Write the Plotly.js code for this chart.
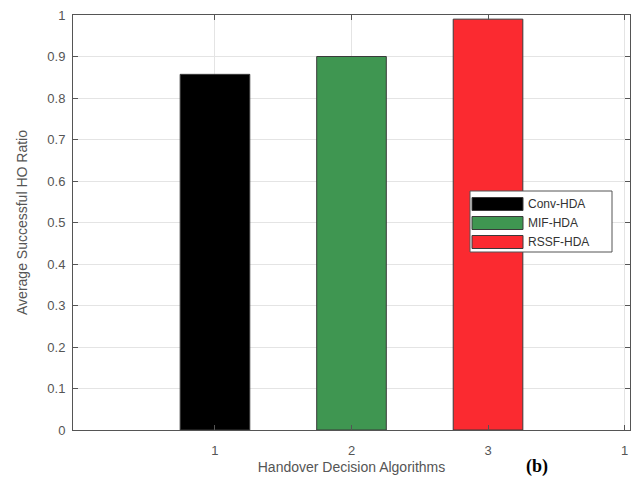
<!DOCTYPE html>
<html>
<head>
<meta charset="utf-8">
<script src="https://cdn.plot.ly/plotly-3.0.1.min.js"></script>
<style>html,body{margin:0;padding:0;background:#fff;}#chart{width:640px;height:481px;}</style>
</head>
<body>
<div id="chart"></div>
<script>
// Data
const seriesNames = ['Conv-HDA', 'MIF-HDA', 'RSSF-HDA'];
const xPositions = [1, 2, 3];
const seriesValues = [0.857, 0.900, 0.990];
const seriesColors = ['#000000', '#3f9651', '#fb2a30'];
const xTickVals = [1, 2, 3, 4];
const xTickText = ['1', '2', '3', '1'];
const yTickVals = [0, 0.1, 0.2, 0.3, 0.4, 0.5, 0.6, 0.7, 0.8, 0.9, 1];
const yTickText = ['0', '0.1', '0.2', '0.3', '0.4', '0.5', '0.6', '0.7', '0.8', '0.9', '1'];

const W = 640, H = 481;
const M = {l: 73, r: 10, t: 15, b: 51};
const pw = W - M.l - M.r, ph = H - M.t - M.b;
const px2x = p => (p - M.l) / pw;
const py2y = p => (H - M.b - p) / ph;

const traces = seriesNames.map((n, i) => ({
  type: 'bar',
  name: n,
  x: [xPositions[i]],
  y: [seriesValues[i]],
  width: 0.51,
  marker: {color: seriesColors[i], line: {color: '#3a3a3a', width: 1}},
  showlegend: false,
  hoverinfo: 'none'
}));

// Manual MATLAB-style legend
const shapes = [];
const annotations = [];
const legL = 470, legR = 612, legT = 191, legB = 252;
shapes.push({type: 'rect', xref: 'paper', yref: 'paper', x0: px2x(legL), x1: px2x(legR), y0: py2y(legB), y1: py2y(legT),
  fillcolor: '#ffffff', line: {color: '#555555', width: 1}, layer: 'above'});
const rowY = [204, 223, 242];
seriesNames.forEach((n, i) => {
  shapes.push({type: 'rect', xref: 'paper', yref: 'paper', x0: px2x(472), x1: px2x(523), y0: py2y(rowY[i] + 6.5), y1: py2y(rowY[i] - 6.5),
    fillcolor: seriesColors[i], line: {color: '#3a3a3a', width: 1}, layer: 'above'});
  annotations.push({xref: 'paper', yref: 'paper', x: px2x(526), y: py2y(rowY[i]), xanchor: 'left', yanchor: 'middle',
    text: n, showarrow: false, font: {family: 'Liberation Sans, Arial, sans-serif', size: 12, color: '#333333'}});
});
annotations.push({xref: 'paper', yref: 'paper', x: px2x(537), y: py2y(466), xanchor: 'center', yanchor: 'middle',
  text: '<b>(b)</b>', showarrow: false, font: {family: 'Liberation Serif, Times New Roman, serif', size: 18, color: '#000000'}});

const layout = {
  width: W, height: H,
  margin: {l: M.l, r: M.r, t: M.t, b: M.b, pad: 0},
  paper_bgcolor: '#ffffff', plot_bgcolor: '#ffffff',
  font: {family: 'Liberation Sans, Arial, sans-serif', color: '#555555'},
  xaxis: {
    range: [-0.04, 4.04], tickvals: xTickVals, ticktext: xTickText,
    showgrid: true, gridcolor: '#e4e4e4', gridwidth: 1,
    showline: true, linecolor: '#555555', linewidth: 1, mirror: 'ticks',
    ticks: 'inside', ticklen: 5, tickcolor: '#555555', ticklabelstandoff: 8,
    tickfont: {size: 13, color: '#555555'}, zeroline: false,
    title: {text: 'Handover Decision Algorithms', font: {size: 14, color: '#555555'}, standoff: 5}
  },
  yaxis: {
    range: [0, 1], tickvals: yTickVals, ticktext: yTickText,
    showgrid: true, gridcolor: '#e4e4e4', gridwidth: 1,
    showline: true, linecolor: '#555555', linewidth: 1, mirror: 'ticks',
    ticks: 'inside', ticklen: 5, tickcolor: '#555555', ticklabelstandoff: 4,
    tickfont: {size: 13, color: '#555555'}, zeroline: false,
    title: {text: 'Average Successful HO Ratio', font: {size: 14, color: '#555555'}, standoff: 16}
  },
  shapes: shapes,
  annotations: annotations,
  showlegend: false,
  bargap: 0
};

Plotly.newPlot('chart', traces, layout, {displayModeBar: false, staticPlot: true});
</script>
</body>
</html>
